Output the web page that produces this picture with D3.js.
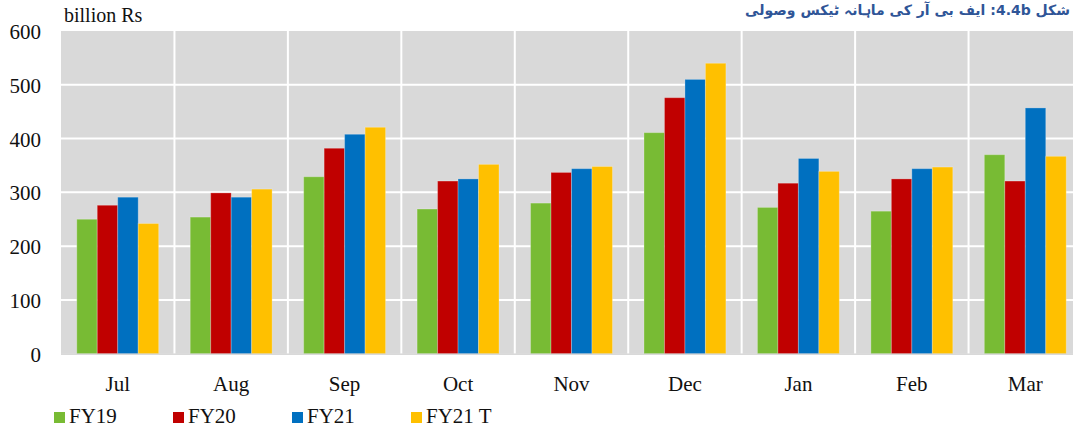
<!DOCTYPE html>
<html>
<head>
<meta charset="utf-8">
<script src="https://cdn.jsdelivr.net/npm/d3@7"></script>
<style>
  body { margin: 0; background: #fff; overflow: hidden; }
  #wrap { position: relative; width: 1073px; height: 430px; overflow: hidden; }
  #title {
    position: absolute; right: 3px; top: 1px; line-height: 18px;
    direction: rtl; white-space: nowrap;
    font-family: "DejaVu Sans", sans-serif; font-weight: bold;
    font-size: 14px; color: #2F5597;
  }
</style>
</head>
<body>
<div id="wrap">
  <div id="title">شکل 4.4b: ایف بی آر کی ماہانہ ٹیکس وصولی</div>
  <svg id="chart" width="1073" height="430"></svg>
</div>
<script>
// months and series (billion Rs)
const months = ["Jul", "Aug", "Sep", "Oct", "Nov", "Dec", "Jan", "Feb", "Mar"];
const seriesNames = ["FY19", "FY20", "FY21", "FY21 T"];
const seriesColors = ["#78BB34", "#C00000", "#0070C0", "#FFC000"];
const fy19 = [250, 254, 329, 269, 280, 411, 272, 265, 370];
const fy20 = [276, 299, 382, 321, 337, 476, 317, 325, 321];
const fy21 = [291, 291, 408, 325, 344, 510, 363, 344, 457];
const fy21t = [242, 306, 421, 352, 348, 540, 339, 347, 367];
const yTicks = [0, 100, 200, 300, 400, 500, 600];

const allSeries = [fy19, fy20, fy21, fy21t];
const serif = 'Liberation Serif';

const svg = d3.select('#chart');
const plotLeft = 61, plotRight = 1082, plotTop = 31, plotBottom = 353.7;

const x = d3.scaleBand().domain(months).range([plotLeft, plotRight]);
const xInner = d3.scaleBand().domain(seriesNames)
    .range([0, x.bandwidth()]).paddingOuter(0.77);
const y = d3.scaleLinear().domain([0, 600]).range([plotBottom, plotTop]);

// plot background
svg.append('rect')
    .attr('x', plotLeft).attr('y', plotTop)
    .attr('width', plotRight - plotLeft).attr('height', plotBottom - plotTop)
    .attr('fill', '#D9D9D9');

// horizontal gridlines
svg.selectAll('.hgrid')
    .data(yTicks.filter(d => d > 0 && d < 600))
    .enter().append('line')
    .attr('x1', plotLeft).attr('x2', plotRight)
    .attr('y1', d => y(d)).attr('y2', d => y(d))
    .attr('stroke', '#fff').attr('stroke-width', 2);

// vertical gridlines between months
svg.selectAll('.vgrid')
    .data(months.slice(1))
    .enter().append('line')
    .attr('x1', d => x(d)).attr('x2', d => x(d))
    .attr('y1', plotTop).attr('y2', plotBottom)
    .attr('stroke', '#fff').attr('stroke-width', 2);

// bars
const groups = svg.selectAll('.month')
    .data(months)
    .enter().append('g')
    .attr('transform', d => `translate(${x(d)},0)`);

groups.selectAll('rect')
    .data((m, i) => allSeries.map((s, k) => ({ name: seriesNames[k], value: s[i], color: seriesColors[k] })))
    .enter().append('rect')
    .attr('x', d => xInner(d.name))
    .attr('y', d => y(d.value))
    .attr('width', xInner.bandwidth())
    .attr('height', d => y(0) - y(d.value))
    .attr('fill', d => d.color)
    .attr('stroke', 'rgba(255,255,255,0.25)')
    .attr('stroke-width', 1);

// baseline
svg.append('line')
    .attr('x1', plotLeft).attr('x2', plotRight)
    .attr('y1', plotBottom + 0.5).attr('y2', plotBottom + 0.5)
    .attr('stroke', '#C8C8C8').attr('stroke-width', 1);

// y axis labels
const yAxis = d3.axisLeft(y).tickValues(yTicks).tickSize(0).tickPadding(20);
const yg = svg.append('g').attr('transform', `translate(${plotLeft},0)`).call(yAxis);
yg.select('.domain').remove();
yg.selectAll('text').attr('dy', '0.36em');

// x axis labels
const xAxis = d3.axisBottom(x).tickSize(0).tickPadding(22);
const xg = svg.append('g').attr('transform', `translate(0,${plotBottom})`).call(xAxis);
xg.select('.domain').remove();

// unit label
svg.append('text')
    .attr('x', 64).attr('y', 22)
    .style('font-size', '20px')
    .text('billion Rs');

// legend
const legend = svg.selectAll('.legend')
    .data(seriesNames)
    .enter().append('g')
    .attr('transform', (d, i) => `translate(${54 + i * 119},412)`);
legend.append('rect')
    .attr('width', 11).attr('height', 11)
    .attr('fill', (d, i) => seriesColors[i]);
legend.append('text')
    .attr('x', 15).attr('y', 11)
    .text(d => d);

// one font for every chart text
svg.selectAll('g').attr('font-family', null).attr('font-size', null);
svg.selectAll('text')
    .style('font-family', serif)
    .style('fill', '#111');
svg.selectAll('g text').style('font-size', '21px');
</script>
</body>
</html>
